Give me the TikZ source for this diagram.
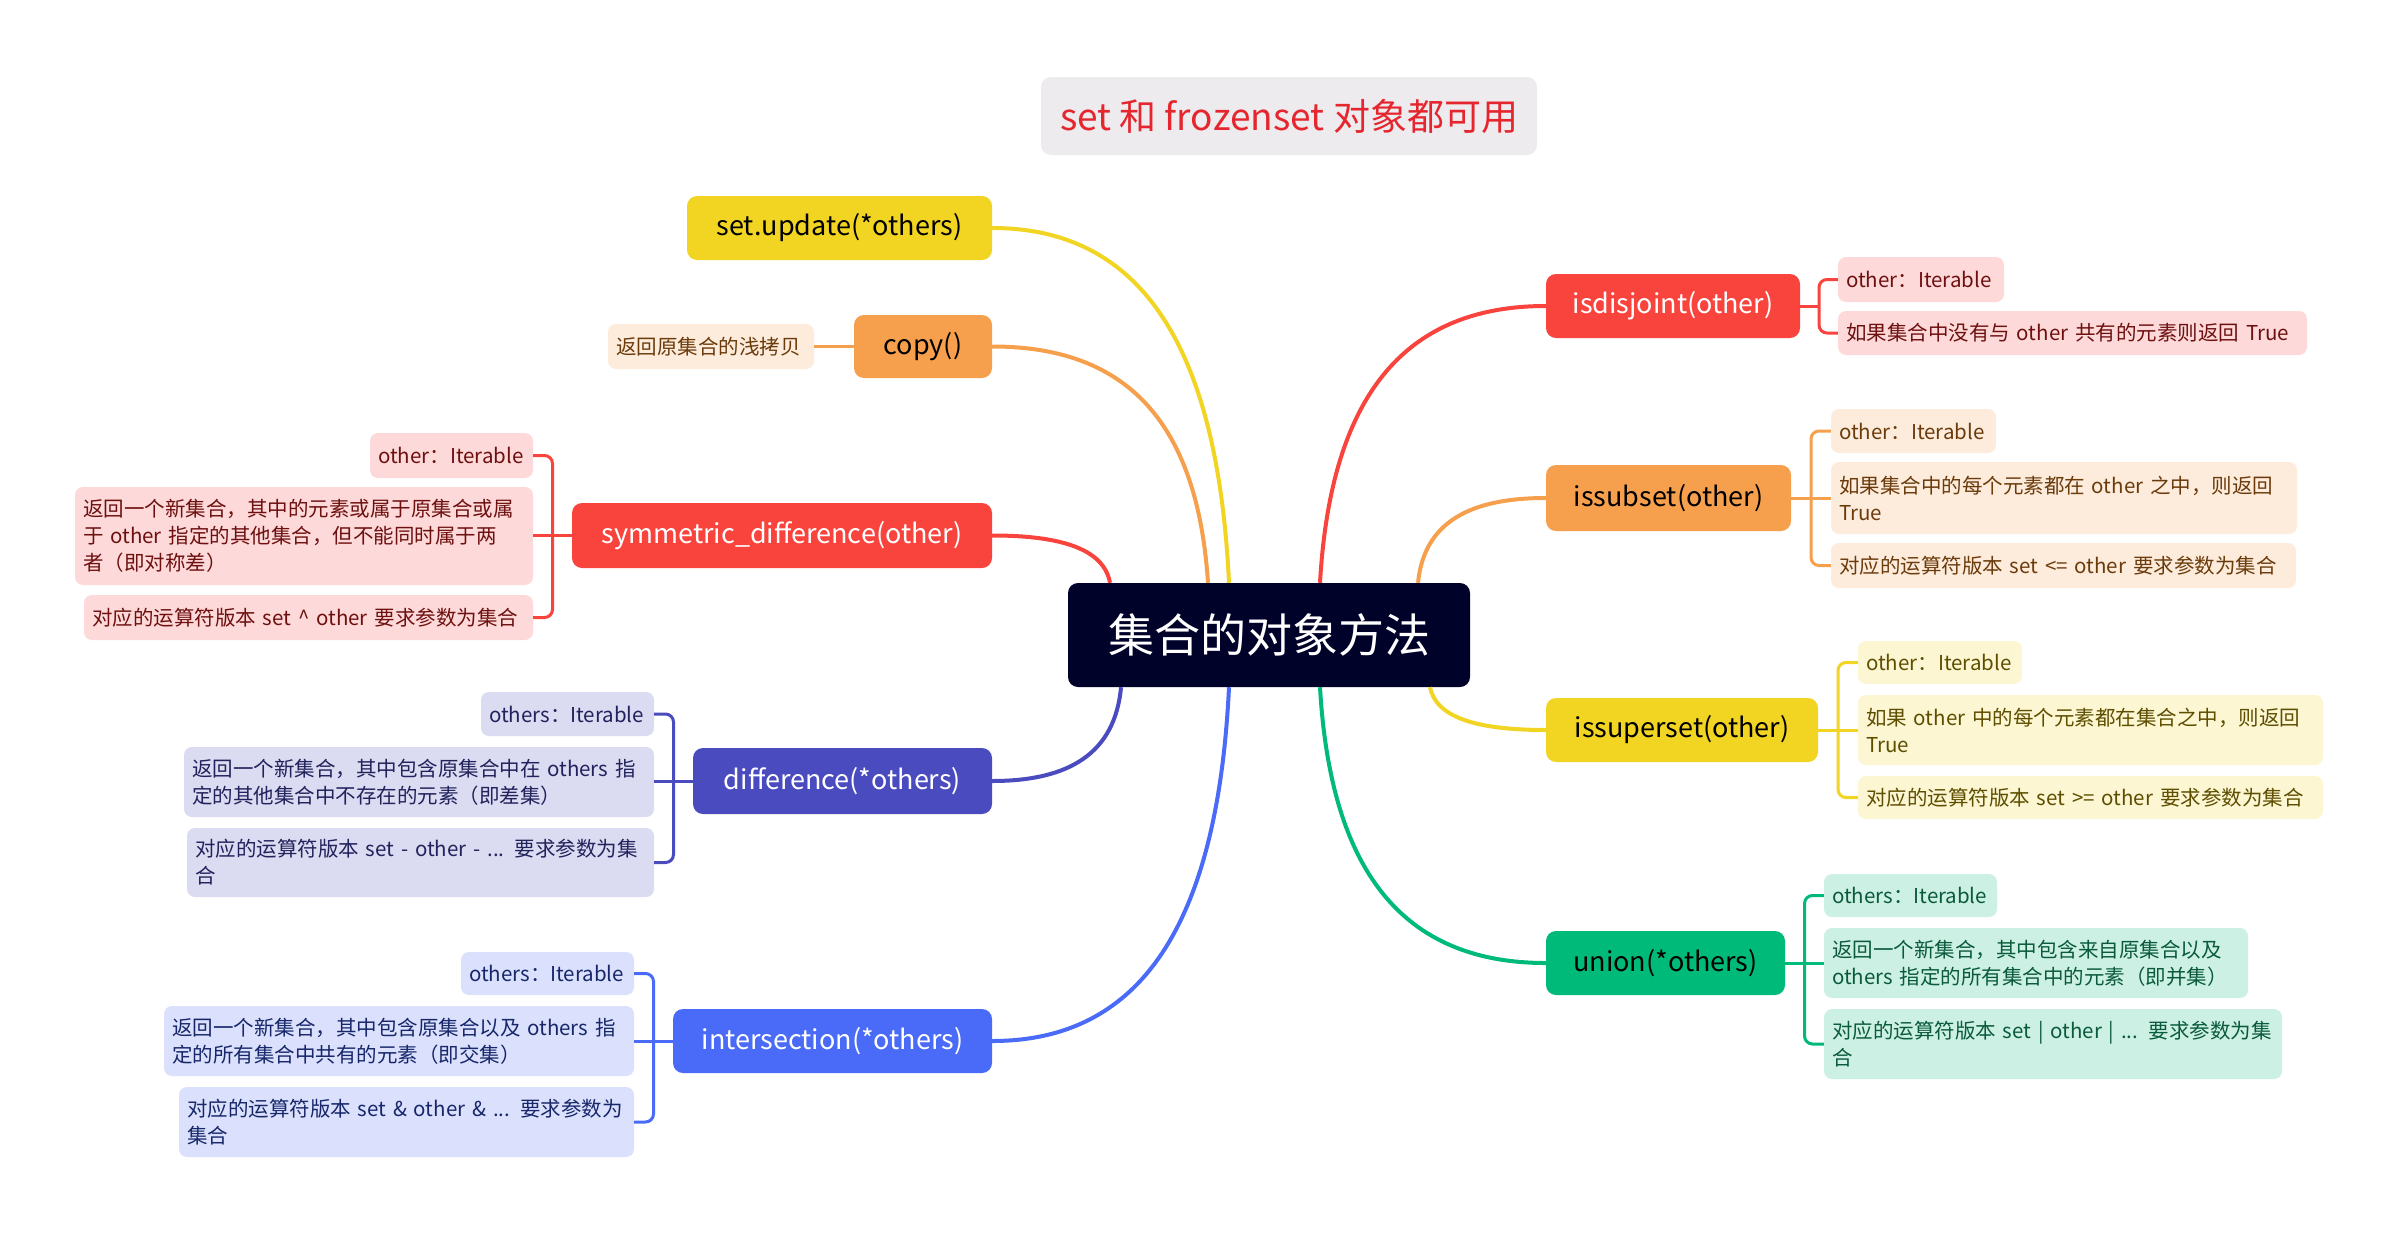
\documentclass[tikz,border=0pt]{standalone}
\usepackage{fontspec}
\setmainfont{Noto Sans CJK SC}
\usetikzlibrary{calc}
\definecolor{redM}{HTML}{F9443E}
\definecolor{redL}{HTML}{FDDAD9}
\definecolor{redT}{HTML}{6E1010}
\definecolor{oraM}{HTML}{F6A04D}
\definecolor{oraL}{HTML}{FDECDB}
\definecolor{oraT}{HTML}{6B3B0C}
\definecolor{yelM}{HTML}{F2D423}
\definecolor{yelL}{HTML}{FCF6D3}
\definecolor{yelT}{HTML}{5E4E00}
\definecolor{purM}{HTML}{4B4BC0}
\definecolor{purL}{HTML}{DBDBF2}
\definecolor{purT}{HTML}{22225C}
\definecolor{bluM}{HTML}{4A6BF7}
\definecolor{bluL}{HTML}{DBE1FD}
\definecolor{bluT}{HTML}{17276A}
\definecolor{greM}{HTML}{00BA7A}
\definecolor{greL}{HTML}{CCF1E4}
\definecolor{greT}{HTML}{0A5A3B}
\definecolor{navyC}{HTML}{000229}
\definecolor{titleF}{HTML}{EDEBEE}
\definecolor{titleT}{HTML}{E6262E}
\newcommand{\oneln}[1]{\mbox{#1}}
\begin{document}
\begin{tikzpicture}[x=1pt,y=-1pt,
  mainbox/.style={rounded corners=10pt, inner sep=0pt, align=center, font=\fontsize{27}{32}\selectfont},
  childbox/.style={rounded corners=8pt, inner xsep=8pt, inner ysep=0pt, align=left, font=\fontsize{20.5}{27}\selectfont},
  conn/.style={line width=4pt},
  brk/.style={line width=3pt, rounded corners=8pt}]
\useasboundingbox (0,0) rectangle (2400,1234);
\fill[white] (0,0) rectangle (2400,1234);

% title
\node[fill=titleF, text=titleT, rounded corners=10pt, minimum width=496pt, minimum height=78pt, inner sep=0pt, font=\fontsize{37}{44}\selectfont] (title) at (1289,116) {set 和 frozenset 对象都可用};

% central
\node[fill=navyC, text=white, rounded corners=10pt, minimum width=402pt, minimum height=104pt, inner sep=0pt, font=\fontsize{46}{54}\selectfont] (central) at (1269,635) {集合的对象方法};

% left main nodes
\node[mainbox, fill=yelM, text=black, minimum width=305pt, minimum height=64pt] (upd) at (839.5,228) {set.update(*others)};
\node[mainbox, fill=oraM, text=black, minimum width=138pt, minimum height=63pt] (copy) at (923,346.5) {copy()};
\node[mainbox, fill=redM, text=white, minimum width=420pt, minimum height=65pt] (sym) at (782,535.5) {symmetric\_difference(other)};
\node[mainbox, fill=purM, text=white, minimum width=299pt, minimum height=66pt] (diff) at (842.5,781) {difference(*others)};
\node[mainbox, fill=bluM, text=white, minimum width=319pt, minimum height=64pt] (inter) at (832.5,1041) {intersection(*others)};

% right main nodes
\node[mainbox, fill=redM, text=white, minimum width=254pt, minimum height=64pt] (disj) at (1673,306) {isdisjoint(other)};
\node[mainbox, fill=oraM, text=black, minimum width=245pt, minimum height=66pt] (sub) at (1668.5,498) {issubset(other)};
\node[mainbox, fill=yelM, text=black, minimum width=272pt, minimum height=64pt] (sup) at (1682,730) {issuperset(other)};
\node[mainbox, fill=greM, text=black, minimum width=239pt, minimum height=64pt] (uni) at (1665.5,963) {union(*others)};

% children: copy
\node[childbox, fill=oraL, text=oraT, text width=190pt, minimum height=45pt] (copyc) at (711,346.5) {\oneln{返回原集合的浅拷贝}};

% children: symmetric_difference
\node[childbox, fill=redL, text=redT, text width=147pt, minimum height=45pt] (sym1) at (451.5,455.5) {\oneln{other：Iterable}};
\node[childbox, fill=redL, text=redT, text width=442pt, minimum height=98pt] (sym2) at (304,536) {\oneln{返回一个新集合，其中的元素或属于原集合或属}\\\oneln{于 other 指定的其他集合，但不能同时属于两}\\\oneln{者（即对称差）}};
\node[childbox, fill=redL, text=redT, text width=433pt, minimum height=45pt] (sym3) at (308.5,617.5) {\oneln{对应的运算符版本 set \textasciicircum{} other 要求参数为集合}};

% children: difference
\node[childbox, fill=purL, text=purT, text width=157pt, minimum height=44pt] (diff1) at (567.5,714) {\oneln{others：Iterable}};
\node[childbox, fill=purL, text=purT, text width=454pt, minimum height=70pt] (diff2) at (419,782) {\oneln{返回一个新集合，其中包含原集合中在 others 指}\\\oneln{定的其他集合中不存在的元素（即差集）}};
\node[childbox, fill=purL, text=purT, text width=451pt, minimum height=69pt] (diff3) at (420.5,862.5) {\oneln{对应的运算符版本 set - other - ... 要求参数为集}\\\oneln{合}};

% children: intersection
\node[childbox, fill=bluL, text=bluT, text width=157pt, minimum height=43pt] (inter1) at (547.5,973.5) {\oneln{others：Iterable}};
\node[childbox, fill=bluL, text=bluT, text width=454pt, minimum height=70pt] (inter2) at (399,1041) {\oneln{返回一个新集合，其中包含原集合以及 others 指}\\\oneln{定的所有集合中共有的元素（即交集）}};
\node[childbox, fill=bluL, text=bluT, text width=439pt, minimum height=70pt] (inter3) at (406.5,1122) {\oneln{对应的运算符版本 set \& other \& ... 要求参数为}\\\oneln{集合}};

% children: isdisjoint
\node[childbox, fill=redL, text=redT, text width=150pt, minimum height=45pt] (disj1) at (1921,279.5) {\oneln{other：Iterable}};
\node[childbox, fill=redL, text=redT, text width=453pt, minimum height=44pt] (disj2) at (2072.5,333) {\oneln{如果集合中没有与 other 共有的元素则返回 True}};

% children: issubset
\node[childbox, fill=oraL, text=oraT, text width=149pt, minimum height=44pt] (sub1) at (1913.5,431) {\oneln{other：Iterable}};
\node[childbox, fill=oraL, text=oraT, text width=450pt, minimum height=72pt] (sub2) at (2064,498) {\oneln{如果集合中的每个元素都在 other 之中，则返回}\\\oneln{True}};
\node[childbox, fill=oraL, text=oraT, text width=449pt, minimum height=45pt] (sub3) at (2063.5,565.5) {\oneln{对应的运算符版本 set <= other 要求参数为集合}};

% children: issuperset
\node[childbox, fill=yelL, text=yelT, text width=148pt, minimum height=43pt] (sup1) at (1940,662.5) {\oneln{other：Iterable}};
\node[childbox, fill=yelL, text=yelT, text width=449pt, minimum height=70pt] (sup2) at (2090.5,730) {\oneln{如果 other 中的每个元素都在集合之中，则返回}\\\oneln{True}};
\node[childbox, fill=yelL, text=yelT, text width=449pt, minimum height=43pt] (sup3) at (2090.5,797.5) {\oneln{对应的运算符版本 set >= other 要求参数为集合}};

% children: union
\node[childbox, fill=greL, text=greT, text width=157pt, minimum height=43pt] (uni1) at (1910.5,895.5) {\oneln{others：Iterable}};
\node[childbox, fill=greL, text=greT, text width=408pt, minimum height=70pt] (uni2) at (2036,963) {\oneln{返回一个新集合，其中包含来自原集合以及}\\\oneln{others 指定的所有集合中的元素（即并集）}};
\node[childbox, fill=greL, text=greT, text width=442pt, minimum height=70pt] (uni3) at (2053,1044) {\oneln{对应的运算符版本 set | other | ... 要求参数为集}\\\oneln{合}};

% main curves
\draw[conn, yelM] (upd.east) .. controls +(142,0) and +(-12,-248) .. ($(central.north)+(-40,0)$);
\draw[conn, oraM] (copy.east) .. controls +(130,0) and +(-11,-166) .. ($(central.north)+(-61,0)$);
\draw[conn, redM] (sym.east) .. controls +(71,0) and +(-6,-33) .. ($(central.north)+(-159,0)$);
\draw[conn, purM] (diff.east) .. controls +(77,0) and +(-6,66) .. ($(central.south)+(-148,0)$);
\draw[conn, bluM] (inter.east) .. controls +(142,0) and +(-12,248) .. ($(central.south)+(-40,0)$);
\draw[conn, redM] (disj.west) .. controls +(-136,0) and +(11,-194) .. ($(central.north)+(51,0)$);
\draw[conn, oraM] (sub.west) .. controls +(-77,0) and +(6,-60) .. ($(central.north)+(149,0)$);
\draw[conn, yelM] (sup.west) .. controls +(-70,0) and +(6,30) .. ($(central.south)+(161,0)$);
\draw[conn, greM] (uni.west) .. controls +(-136,0) and +(11,193) .. ($(central.south)+(51,0)$);

% brackets
\draw[brk, oraM] (copy.west) -- (copyc.east);

\coordinate (bsym) at ($(sym.west)!0.5!(sym.west -| sym1.east)$);
\draw[brk, redM] (sym1.east) -- (sym1.east -| bsym) -- (sym3.east -| bsym) -- (sym3.east);
\draw[brk, redM] (sym.west) -- (sym.west -| sym2.east);

\coordinate (bdiff) at ($(diff.west)!0.5!(diff.west -| diff1.east)$);
\draw[brk, purM] (diff1.east) -- (diff1.east -| bdiff) -- (diff3.east -| bdiff) -- (diff3.east);
\draw[brk, purM] (diff.west) -- (diff.west -| diff2.east);

\coordinate (binter) at ($(inter.west)!0.5!(inter.west -| inter1.east)$);
\draw[brk, bluM] (inter1.east) -- (inter1.east -| binter) -- (inter3.east -| binter) -- (inter3.east);
\draw[brk, bluM] (inter.west) -- (inter.west -| inter2.east);

\coordinate (bdisj) at ($(disj.east)!0.5!(disj.east -| disj1.west)$);
\draw[brk, redM] (disj1.west) -- (disj1.west -| bdisj) -- (disj2.west -| bdisj) -- (disj2.west);
\draw[brk, redM] (disj.east) -- (bdisj);

\coordinate (bsub) at ($(sub.east)!0.5!(sub.east -| sub1.west)$);
\draw[brk, oraM] (sub1.west) -- (sub1.west -| bsub) -- (sub3.west -| bsub) -- (sub3.west);
\draw[brk, oraM] (sub.east) -- (sub.east -| sub2.west);

\coordinate (bsup) at ($(sup.east)!0.5!(sup.east -| sup1.west)$);
\draw[brk, yelM] (sup1.west) -- (sup1.west -| bsup) -- (sup3.west -| bsup) -- (sup3.west);
\draw[brk, yelM] (sup.east) -- (sup.east -| sup2.west);

\coordinate (buni) at ($(uni.east)!0.5!(uni.east -| uni1.west)$);
\draw[brk, greM] (uni1.west) -- (uni1.west -| buni) -- (uni3.west -| buni) -- (uni3.west);
\draw[brk, greM] (uni.east) -- (uni.east -| uni2.west);
\end{tikzpicture}
\end{document}
